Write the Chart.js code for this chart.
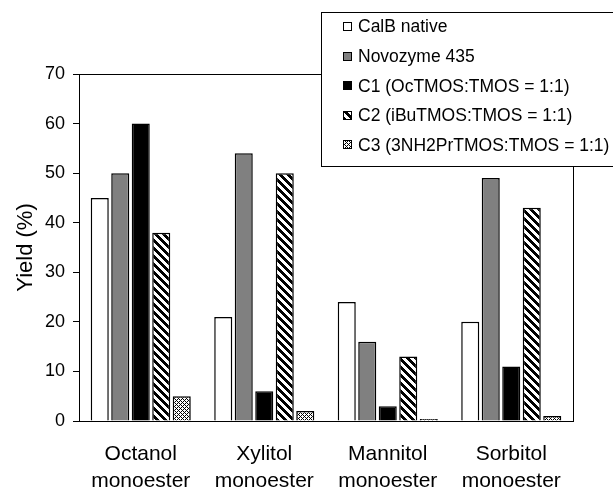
<!DOCTYPE html>
<html>
<head>
<meta charset="utf-8">
<script src="https://cdn.jsdelivr.net/npm/chart.js@4"></script>
<style>
  body { margin: 0; background: #fff; }
</style>
</head>
<body>
<canvas id="chart" width="613" height="491"></canvas>
<script>
const categories = [['Octanol', 'monoester'], ['Xylitol', 'monoester'], ['Mannitol', 'monoester'], ['Sorbitol', 'monoester']];
const seriesNames = ['CalB native', 'Novozyme 435', 'C1 (OcTMOS:TMOS = 1:1)', 'C2 (iBuTMOS:TMOS = 1:1)', 'C3 (3NH2PrTMOS:TMOS = 1:1)'];
const calbNative = [45, 21, 24, 20];
const novozyme = [50, 54, 16, 49];
const c1Values = [60, 6, 3, 11];
const c2Values = [38, 50, 13, 43];
const c3Values = [5, 2, 0.4, 1];
const yMin = 0, yMax = 70, yStep = 10;

// little pixel tiles for the hatched series
function makePattern(size, isBlack) {
  const c = document.createElement('canvas');
  c.width = size; c.height = size;
  const cx = c.getContext('2d');
  const img = cx.createImageData(size, size);
  for (let y = 0; y < size; y++) {
    for (let x = 0; x < size; x++) {
      const v = isBlack(x, y) ? 0 : 255;
      const i = (y * size + x) * 4;
      img.data[i] = v; img.data[i + 1] = v; img.data[i + 2] = v; img.data[i + 3] = 255;
    }
  }
  cx.putImageData(img, 0, 0);
  return cx.createPattern(c, 'repeat');
}

const ctx = document.getElementById('chart').getContext('2d');
const stripes = makePattern(8, (x, y) => ((x - y + 16) % 8) < 4);
const hatch = makePattern(4, (x, y) => (x + y) % 4 === 0 || (x - y + 4) % 4 === 0);

const fills = ['#ffffff', '#808080', '#000000', stripes, hatch];
const seriesValues = [calbNative, novozyme, c1Values, c2Values, c3Values];

const boxPlugin = {
  id: 'box',
  afterDatasetsDraw(chart) {
    const a = chart.chartArea;
    const c = chart.ctx;
    c.save();
    c.strokeStyle = '#000';
    c.lineWidth = 1;
    c.beginPath();
    c.moveTo(a.left, a.top + 0.5);
    c.lineTo(a.right + 0.5, a.top + 0.5);
    c.lineTo(a.right + 0.5, a.bottom);
    c.stroke();
    c.restore();
  }
};

const legendPlugin = {
  id: 'boxLegend',
  afterDraw(chart) {
    const c = chart.ctx;
    c.save();
    c.fillStyle = '#fff';
    c.fillRect(321, 12, 300, 154);
    c.strokeStyle = '#000';
    c.lineWidth = 1;
    c.strokeRect(321.5, 12.5, 300, 154);
    c.font = '17.5px "Liberation Sans", Arial, sans-serif';
    c.textBaseline = 'middle';
    chart.data.datasets.forEach((ds, i) => {
      const yc = 26.5 + i * 29.6;
      c.fillStyle = ds.backgroundColor;
      c.fillRect(343, Math.round(yc - 4.5), 9, 9);
      c.strokeStyle = '#000';
      c.lineWidth = 1;
      c.strokeRect(343.5, Math.round(yc - 4.5) + 0.5, 8, 8);
      c.fillStyle = '#000';
      c.fillText(ds.label, 358, yc + 1);
    });
    c.restore();
  }
};

new Chart(ctx, {
  type: 'bar',
  data: {
    labels: categories,
    datasets: seriesNames.map((name, i) => ({
      label: name,
      data: seriesValues[i],
      backgroundColor: fills[i],
      borderColor: '#000',
      borderWidth: 1.5,
      categoryPercentage: 0.83,
      barPercentage: 0.88
    }))
  },
  options: {
    responsive: false,
    animation: false,
    layout: { padding: { top: 74, right: 40, left: 0, bottom: 0 } },
    plugins: {
      legend: { display: false },
      tooltip: { enabled: false }
    },
    scales: {
      x: {
        grid: { display: false, drawTicks: false },
        border: { display: true, color: '#000', width: 1 },
        ticks: {
          color: '#000',
          padding: 20,
          maxRotation: 0,
          font: { family: '"Liberation Sans", Arial, sans-serif', size: 21, lineHeight: 1.27 }
        },
        afterFit(scale) { scale.height = 70; }
      },
      y: {
        min: yMin,
        max: yMax,
        grid: { display: true, drawOnChartArea: false, drawTicks: true, tickLength: 6, color: '#000' },
        border: { display: true, color: '#000', width: 1 },
        ticks: {
          stepSize: yStep,
          color: '#000',
          padding: 8,
          font: { family: '"Liberation Sans", Arial, sans-serif', size: 18 }
        },
        title: {
          display: true,
          text: 'Yield (%)',
          color: '#000',
          padding: { top: 13, bottom: 0 },
          font: { family: '"Liberation Sans", Arial, sans-serif', size: 22 }
        },
        afterFit(scale) { scale.width = 79; }
      }
    }
  },
  plugins: [boxPlugin, legendPlugin]
});
</script>
</body>
</html>
